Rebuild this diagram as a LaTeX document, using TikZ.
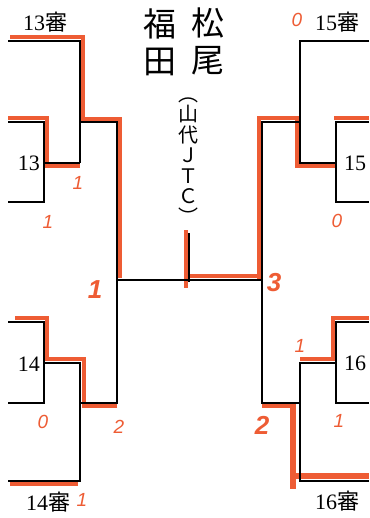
\documentclass[tikz,border=0pt]{standalone}
\usepackage{fontspec}
\setmainfont{Liberation Serif}
\setsansfont{Liberation Sans}
\newfontfamily\jp{Noto Sans CJK JP}
\definecolor{marker}{RGB}{238,92,52}
\tikzset{
  bracket/.style={black, line width=1.5pt},
  win/.style={marker, line width=4pt},
  score/.style={marker, font=\sffamily\itshape\fontsize{19}{20}\selectfont},
  bigscore/.style={marker, font=\sffamily\bfseries\itshape\fontsize{26}{28}\selectfont},
  seat/.style={font=\fontsize{22}{24}\selectfont},
  playerchar/.style={font=\jp\fontsize{33}{35}\selectfont},
}
\begin{document}
\begin{tikzpicture}[x=1pt,y=-1pt]
    \useasboundingbox[fill=white] (0,0) rectangle (369,518);
    \clip (0,0) rectangle (369,518);

    % red winner lines, under the bracket
    \draw[win] (10,37) -- (83,37) -- (83,119) -- (120,119) -- (120,278);
    \draw[win] (8,118) -- (47,118) -- (47,166) -- (80,166);
    \draw[win] (15,318) -- (47,318) -- (47,359) -- (84,359) -- (84,406) -- (117,406);
    \draw[win] (10,484) -- (78,484);
    \draw[win] (186,230) -- (186,288);
    \draw[win] (188,276) -- (262,276);
    \draw[win] (259,280) -- (259,118) -- (297,118) -- (297,166) -- (336,166);
    \draw[win] (334,118) -- (369,118);
    \draw[win] (369,318) -- (333,318) -- (333,359) -- (300,359);
    \draw[win] (262,406) -- (293,406);
    \draw[win, line width=6pt] (293,404) -- (293,489);
    \draw[win, line width=6pt] (296,476) -- (369,476);

    % left half
    \draw[bracket] (8,41) -- (80,41) -- (80,163);
    \draw[bracket] (8,122) -- (44,122) -- (44,202) -- (8,202);
    \draw[bracket] (44,163) -- (80,163);
    \draw[bracket] (80,122) -- (117,122) -- (117,403) -- (80,403);
    \draw[bracket] (8,322) -- (44,322) -- (44,403) -- (8,403);
    \draw[bracket] (44,363) -- (80,363) -- (80,481) -- (8,481);

    % final
    \draw[bracket] (117,280) -- (262,280);
    \draw[bracket] (189,233) -- (189,282);

    % right half
    \draw[bracket] (369,41) -- (300,41) -- (300,163) -- (336,163);
    \draw[bracket] (369,122) -- (336,122) -- (336,202) -- (369,202);
    \draw[bracket] (300,122) -- (262,122) -- (262,403) -- (300,403);
    \draw[bracket] (369,322) -- (336,322) -- (336,403) -- (369,403);
    \draw[bracket] (336,363) -- (300,363) -- (300,481) -- (369,481);

    % seats
    \node[seat] (ref13) at (45,22) {13{\jp 審}};
    \node[seat] (ref15) at (337,22) {15{\jp 審}};
    \node[seat] (ref14) at (48,502) {14{\jp 審}};
    \node[seat] (ref16) at (337,501) {16{\jp 審}};
    \node[seat, anchor=east, inner sep=1pt] (seed13) at (41,163) {13};
    \node[seat, anchor=east, inner sep=1pt] (seed14) at (41,364) {14};
    \node[seat, anchor=west, inner sep=1pt] (seed15) at (343,163) {15};
    \node[seat, anchor=west, inner sep=1pt] (seed16) at (343,363) {16};

    % winner
    \node[playerchar] (fuku) at (160,24) {福};
    \node[playerchar] (ta) at (160,62) {田};
    \node[playerchar] (matsu) at (208,23) {松};
    \node[playerchar] (o) at (208,61) {尾};
    \node[font=\jp\fontsize{20}{20.5}\selectfont, align=center] (club) at (188,161)
        {︵\\山\\代\\Ｊ\\Ｔ\\Ｃ\\︶};

    % scores
    \node[score] (s13a) at (78,183) {1};
    \node[score] (s13b) at (48,222) {1};
    \node[bigscore] (sleft) at (95,290) {1};
    \node[score] (s14a) at (43,422) {0};
    \node[score] (s14b) at (119,427) {2};
    \node[score] (s14c) at (82,500) {1};
    \node[score] (s15a) at (297,20) {0};
    \node[score] (s15b) at (337,221) {0};
    \node[bigscore] (sright) at (274,283) {3};
    \node[score] (s16a) at (300,346) {1};
    \node[score] (s16b) at (339,421) {1};
    \node[bigscore] (s16c) at (262,425) {2};
\end{tikzpicture}
\end{document}
